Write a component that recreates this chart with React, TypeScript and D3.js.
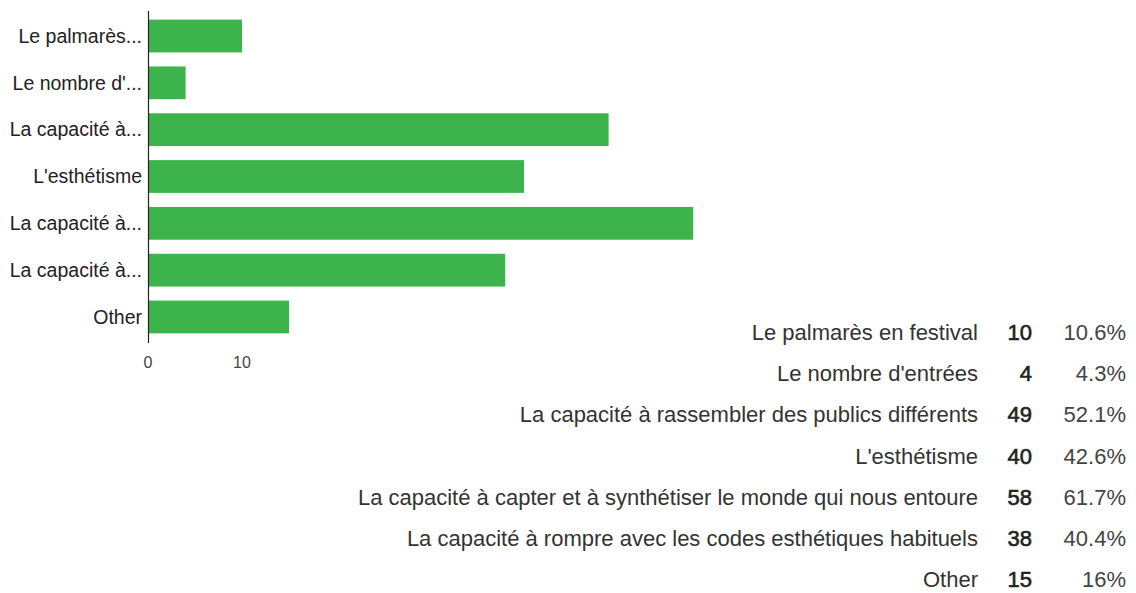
import React from "react";
import * as d3 from "d3";

const shortLabels = [
  "Le palmarès...",
  "Le nombre d'...",
  "La capacité à...",
  "L'esthétisme",
  "La capacité à...",
  "La capacité à...",
  "Other",
];
const fullLabels = [
  "Le palmarès en festival",
  "Le nombre d'entrées",
  "La capacité à rassembler des publics différents",
  "L'esthétisme",
  "La capacité à capter et à synthétiser le monde qui nous entoure",
  "La capacité à rompre avec les codes esthétiques habituels",
  "Other",
];
const counts = [10, 4, 49, 40, 58, 38, 15];
const percents = ["10.6%", "4.3%", "52.1%", "42.6%", "61.7%", "40.4%", "16%"];
const xTicks = [0, 10];

const W = 1136;
const H = 593;
const FONT = "'Liberation Sans', Arial, sans-serif";

export default function App() {
  const ids = d3.range(shortLabels.length).map(String);
  const x = d3.scaleLinear().domain([0, 10]).range([148, 242]);
  const y = d3
    .scaleBand<string>()
    .domain(ids)
    .range([12.6, 340.4])
    .paddingInner(0.3)
    .paddingOuter(0.15);
  const rowY = d3.scaleLinear().domain([0, 6]).range([340, 587]);

  return (
    <svg
      width={W}
      height={H}
      style={{ position: "absolute", left: 0, top: 0, background: "#fff" }}
      fontFamily={FONT}
    >
      <rect x={0} y={0} width={W} height={H} fill="#fff" />
      {ids.map((id, i) => (
        <rect
          key={"b" + i}
          x={x(0)}
          y={y(id)}
          width={x(counts[i]) - x(0)}
          height={y.bandwidth()}
          fill="#3cb44b"
        />
      ))}
      <line x1={x(0) + 0.5} x2={x(0) + 0.5} y1={11} y2={343} stroke="#222" strokeWidth={1.2} />
      {ids.map((id, i) => (
        <text
          key={"l" + i}
          x={142}
          y={(y(id) as number) + y.bandwidth() / 2}
          dy="0.35em"
          textAnchor="end"
          fontSize={19.5}
          fill="#222"
        >
          {shortLabels[i]}
        </text>
      ))}
      {xTicks.map((t) => (
        <text key={"t" + t} x={x(t)} y={368} textAnchor="middle" fontSize={16} fill="#444">
          {t}
        </text>
      ))}
      {fullLabels.map((lab, i) => (
        <g key={"r" + i} fontSize={22}>
          <text x={978} y={rowY(i)} textAnchor="end" fill="#333">
            {lab}
          </text>
          <text
            x={1032}
            y={rowY(i)}
            textAnchor="end"
            fill="#222"
            stroke="#222"
            strokeWidth={0.6}
          >
            {counts[i]}
          </text>
          <text x={1126} y={rowY(i)} textAnchor="end" fill="#444">
            {percents[i]}
          </text>
        </g>
      ))}
    </svg>
  );
}
